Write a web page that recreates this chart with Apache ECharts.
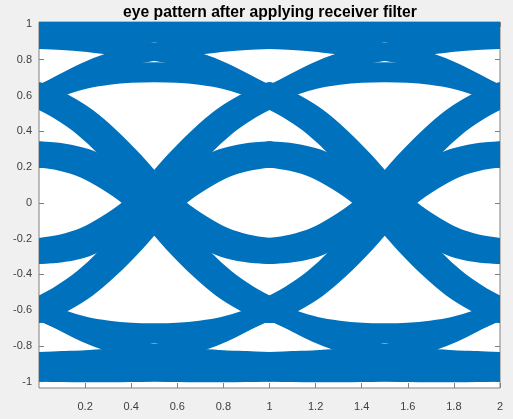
<!DOCTYPE html>
<html>
<head>
<meta charset="utf-8">
<script src="https://cdn.jsdelivr.net/npm/echarts@6/dist/echarts.min.js"></script>
<style>
  html, body { margin: 0; padding: 0; background: #f0f0f0; }
  #chart { width: 513px; height: 419px; }
</style>
</head>
<body>
<div id="chart"></div>
<script>
// Sample instants inside one symbol period (in symbols)
const phase = [0, 0.1, 0.2, 0.3, 0.4, 0.5, 0.6, 0.7, 0.8, 0.9, 1];
// The two symbol periods laid side by side on the time axis
const periods = [0, 1];

const xTicks = [0.2, 0.4, 0.6, 0.8, 1, 1.2, 1.4, 1.6, 1.8, 2];
const yTicks = [-1, -0.8, -0.6, -0.4, -0.2, 0, 0.2, 0.4, 0.6, 0.8, 1];

// Trace families of the filtered signal over one symbol period,
// grouped by the symbols before, at the start, at the end and after.
// Both symbols high
const highHold   = [0.955, 0.957, 0.958, 0.958, 0.957, 0.955, 0.957, 0.958, 0.958, 0.957, 0.955];
const highFall   = [0.91, 0.905, 0.895, 0.88, 0.865, 0.845, 0.82, 0.785, 0.735, 0.67, 0.6];
const highRise   = [0.6, 0.67, 0.735, 0.785, 0.82, 0.845, 0.865, 0.88, 0.895, 0.905, 0.91];
const highHump   = [0.6, 0.655, 0.693, 0.715, 0.727, 0.73, 0.727, 0.715, 0.693, 0.655, 0.6];
// High to low transitions
const downOuter  = [0.6, 0.53, 0.44, 0.32, 0.17, 0, -0.17, -0.32, -0.44, -0.53, -0.6];
const downOutIn  = [0.6, 0.54, 0.46, 0.35, 0.22, 0.075, -0.05, -0.14, -0.21, -0.25, -0.27];
const downInOut  = [0.27, 0.25, 0.21, 0.14, 0.05, -0.075, -0.22, -0.35, -0.46, -0.54, -0.6];
const downInner  = [0.27, 0.26, 0.23, 0.17, 0.09, 0, -0.09, -0.17, -0.23, -0.26, -0.27];
// Low to high transitions
const upOuter    = [-0.6, -0.53, -0.44, -0.32, -0.17, 0, 0.17, 0.32, 0.44, 0.53, 0.6];
const upOutIn    = [-0.6, -0.54, -0.46, -0.35, -0.22, -0.075, 0.05, 0.14, 0.21, 0.25, 0.27];
const upInOut    = [-0.27, -0.25, -0.21, -0.14, -0.05, 0.075, 0.22, 0.35, 0.46, 0.54, 0.6];
const upInner    = [-0.27, -0.26, -0.23, -0.17, -0.09, 0, 0.09, 0.17, 0.23, 0.26, 0.27];
// Both symbols low
const lowHold    = [-0.945, -0.947, -0.948, -0.948, -0.947, -0.945, -0.947, -0.948, -0.948, -0.947, -0.945];
const lowFall    = [-0.6, -0.665, -0.73, -0.78, -0.815, -0.84, -0.857, -0.867, -0.875, -0.88, -0.885];
const lowRise    = [-0.885, -0.88, -0.875, -0.867, -0.857, -0.84, -0.815, -0.78, -0.73, -0.665, -0.6];
const lowDip     = [-0.6, -0.655, -0.693, -0.715, -0.727, -0.73, -0.727, -0.715, -0.693, -0.655, -0.6];

const families = [
  highHold, highFall, highRise, highHump,
  downOuter, downOutIn, downInOut, downInner,
  upOuter, upOutIn, upInOut, upInner,
  lowHold, lowFall, lowRise, lowDip
];
// stroke width (px) of each family band, same order as above
const familyWidth = [
  20, 18, 18, 20,
  26, 26, 26, 26,
  26, 26, 26, 26,
  20, 18, 18, 20
];

const traceColor = '#0072BD';
const boxColor = '#808080';

// one item per (family, period) pair
const traceItems = [];
families.forEach(function (fam, fi) {
  periods.forEach(function (p, pi) { traceItems.push([fi, pi]); });
});

function renderTrace(params, api) {
  const fi = api.value(0);
  const fam = families[fi];
  const p = periods[api.value(1)];
  const pts = phase.map(function (t, i) { return api.coord([p + t, fam[i]]); });
  return {
    type: 'polyline',
    shape: { points: pts, smooth: 0.35 },
    style: { stroke: traceColor, lineWidth: familyWidth[fi], fill: null, lineCap: 'round', lineJoin: 'round' },
    silent: true
  };
}

const chart = echarts.init(document.getElementById('chart'), null, { renderer: 'canvas' });
chart.setOption({
  animation: false,
  backgroundColor: '#f0f0f0',
  title: {
    text: 'eye pattern after applying receiver filter',
    left: 265,
    top: 0,
    textAlign: 'center',
    textStyle: { fontFamily: 'Liberation Sans', fontWeight: 'bold', fontSize: 15.7, color: '#000' }
  },
  grid: {
    left: 39, right: 13, top: 22, bottom: 31,
    show: true, backgroundColor: '#ffffff', borderColor: boxColor, borderWidth: 1
  },
  xAxis: [{
    type: 'value', min: 0, max: 2, position: 'bottom',
    axisLine: { show: false, onZero: false },
    splitLine: { show: false },
    axisTick: { inside: true, length: 5, lineStyle: { color: boxColor }, customValues: xTicks },
    axisLabel: { customValues: xTicks, margin: 13, fontFamily: 'Liberation Sans', fontSize: 11, color: '#404040' }
  }, {
    type: 'value', min: 0, max: 2, position: 'top',
    axisLine: { show: false, onZero: false }, splitLine: { show: false },
    axisTick: { inside: true, length: 5, lineStyle: { color: boxColor }, customValues: xTicks },
    axisLabel: { show: false }
  }],
  yAxis: [{
    type: 'value', min: -1.036, max: 1.011, position: 'left',
    axisLine: { show: false, onZero: false }, splitLine: { show: false },
    axisTick: { inside: true, length: 5, lineStyle: { color: boxColor }, customValues: yTicks },
    axisLabel: { customValues: yTicks, margin: 7, fontFamily: 'Liberation Sans', fontSize: 11, color: '#404040' }
  }, {
    type: 'value', min: -1.036, max: 1.011, position: 'right',
    axisLine: { show: false, onZero: false }, splitLine: { show: false },
    axisTick: { inside: true, length: 5, lineStyle: { color: boxColor }, customValues: yTicks },
    axisLabel: { show: false }
  }],
  series: [{
    type: 'custom',
    coordinateSystem: 'cartesian2d',
    xAxisIndex: 0,
    yAxisIndex: 0,
    clip: true,
    silent: true,
    data: traceItems,
    renderItem: renderTrace
  }]
});
</script>
</body>
</html>
